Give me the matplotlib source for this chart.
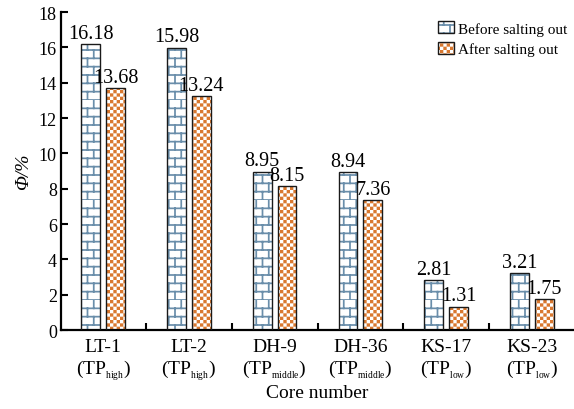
import numpy as np
import matplotlib
matplotlib.use("Agg")
import matplotlib.pyplot as plt
import matplotlib.hatch as mhatch
from matplotlib.path import Path
from matplotlib.patches import Rectangle
from matplotlib.legend_handler import HandlerTuple
from matplotlib.ticker import FixedLocator

# ---------------- data ----------------
core_ids = ["LT-1", "LT-2", "DH-9", "DH-36", "KS-17", "KS-23"]
core_grades = ["high", "high", "middle", "middle", "low", "low"]
before_salting = [16.18, 15.98, 8.95, 8.94, 2.81, 3.21]
after_salting = [13.68, 13.24, 8.15, 7.36, 1.31, 1.75]
series_names = ["Before salting out", "After salting out"]
y_ticks = [0, 2, 4, 6, 8, 10, 12, 14, 16, 18]

# ---------------- custom hatches (brick + checkerboard) ----------------
HATCH_LW = 1.25  # points
plt.rcParams["hatch.linewidth"] = HATCH_LW


class BrickHatch(mhatch.HatchPatternBase):
    rows, cols = 12, 8

    def __init__(self, hatch, density):
        self.active = "+" in hatch
        self.num_vertices = (self.rows * 2 + self.rows * self.cols * 2) if self.active else 0

    def set_vertices_and_codes(self, vertices, codes):
        k = 0
        for r in range(self.rows):
            y = r / self.rows
            vertices[k] = (0.0, y); codes[k] = Path.MOVETO; k += 1
            vertices[k] = (1.0, y); codes[k] = Path.LINETO; k += 1
        for r in range(self.rows):
            y0 = r / self.rows
            y1 = (r + 1) / self.rows
            off = 0.5 * (r % 2)
            for c in range(self.cols):
                x = (c + off) / self.cols
                vertices[k] = (x, y0); codes[k] = Path.MOVETO; k += 1
                vertices[k] = (x, y1); codes[k] = Path.LINETO; k += 1


class CheckerHatch(mhatch.HatchPatternBase):
    n = 30

    def __init__(self, hatch, density):
        self.active = "x" in hatch
        cnt = sum(1 for i in range(self.n) for j in range(self.n) if (i + j) % 2 == 0)
        self.num_vertices = cnt * 5 if self.active else 0

    def set_vertices_and_codes(self, vertices, codes):
        cell = 1.0 / self.n
        shrink = min((HATCH_LW * 100 / 72) / 100.0, cell * 0.6)
        s = cell - shrink
        k = 0
        for i in range(self.n):
            for j in range(self.n):
                if (i + j) % 2:
                    continue
                x0 = i * cell + shrink / 2
                y0 = j * cell + shrink / 2
                pts = [(x0, y0), (x0 + s, y0), (x0 + s, y0 + s), (x0, y0 + s), (x0, y0)]
                cds = [Path.MOVETO, Path.LINETO, Path.LINETO, Path.LINETO, Path.CLOSEPOLY]
                for p, cd in zip(pts, cds):
                    vertices[k] = p; codes[k] = cd; k += 1


mhatch._hatch_types[:] = [BrickHatch, CheckerHatch]

# ---------------- style ----------------
plt.rcParams["font.family"] = ["Liberation Serif", "DejaVu Serif"]
plt.rcParams["mathtext.fontset"] = "custom"
plt.rcParams["mathtext.rm"] = "Liberation Serif"
plt.rcParams["mathtext.it"] = "Liberation Serif:italic"
plt.rcParams["mathtext.bf"] = "Liberation Serif:bold"

brick_color = "#6a8eaa"
checker_color = "#d9782f"
edge_color = "#1a1a1a"

fig = plt.figure(figsize=(5.74, 4.10), dpi=100)
ax = fig.add_axes([61 / 574, 1 - 331 / 410, (574 - 61) / 574, 318 / 410])

x = np.arange(len(core_ids))
w = 0.22
off = 0.145

# hatch layers
hb = ax.bar(x - off, before_salting, w, facecolor="white", edgecolor=brick_color,
            linewidth=0, hatch="+", zorder=2)
ha = ax.bar(x + off, after_salting, w, facecolor="white", edgecolor=checker_color,
            linewidth=0, hatch="x", zorder=2)
# outline layers
ob = ax.bar(x - off, before_salting, w, fill=False, edgecolor=edge_color, linewidth=1.0, zorder=3)
oa = ax.bar(x + off, after_salting, w, fill=False, edgecolor=edge_color, linewidth=1.0, zorder=3)

ax.bar_label(ob, labels=[f"{v:.2f}" for v in before_salting], padding=1, fontsize=14.5)
ax.bar_label(oa, labels=[f"{v:.2f}" for v in after_salting], padding=1, fontsize=14.5)

ax.set_xlim(-0.49, 5.49)
ax.set_ylim(0, 18)
ax.set_yticks(y_ticks)
ax.set_yticklabels([str(t) for t in y_ticks], fontsize=13)

xlabels = [c + "\n(TP$_{{}_{\\mathrm{" + g + "}}}$)" for c, g in zip(core_ids, core_grades)]
ax.set_xticks(x)
ax.set_xticklabels(xlabels, fontsize=14, linespacing=1.15)
ax.xaxis.set_minor_locator(FixedLocator(x[:-1] + 0.5))
ax.tick_params(axis="x", which="major", length=0, pad=6)
ax.tick_params(axis="x", which="minor", direction="in", length=5, width=1.5)
ax.tick_params(axis="y", direction="in", length=5, width=1.5, pad=3)

for s in ("top", "right"):
    ax.spines[s].set_visible(False)
for s in ("left", "bottom"):
    ax.spines[s].set_linewidth(1.6)

ax.set_xlabel("Core number", fontsize=14, labelpad=1)
ax.set_ylabel("Φ/%", fontsize=14, fontstyle="italic", labelpad=5)

# legend handles: hatch patch + outline overlay
lh_b = (Rectangle((0, 0), 1, 1, facecolor="white", edgecolor=brick_color, linewidth=0, hatch="+"),
        Rectangle((0, 0), 1, 1, fill=False, edgecolor=edge_color, linewidth=1.0))
lh_a = (Rectangle((0, 0), 1, 1, facecolor="white", edgecolor=checker_color, linewidth=0, hatch="x"),
        Rectangle((0, 0), 1, 1, fill=False, edgecolor=edge_color, linewidth=1.0))
ax.legend([lh_b, lh_a], series_names, handler_map={tuple: HandlerTuple(ndivide=1)},
          loc="upper right", bbox_to_anchor=(1.005, 1.0), frameon=False, fontsize=11,
          handlelength=1.0, handleheight=0.85, handletextpad=0.3, labelspacing=0.4,
          borderaxespad=0.2)

fig.savefig("out.png", dpi=100)
